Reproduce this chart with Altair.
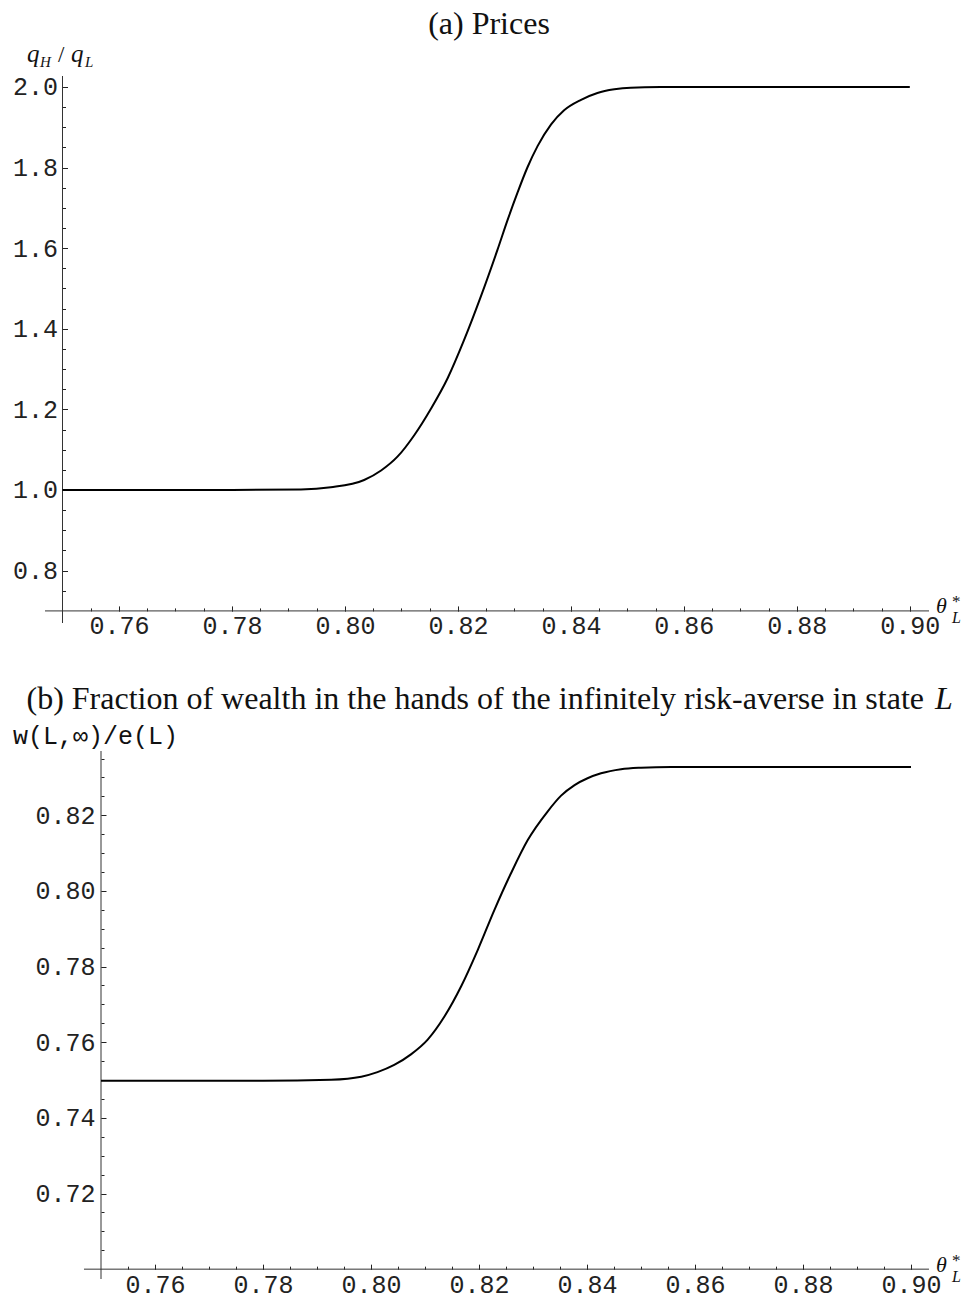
import altair as alt
import pandas as pd

# ---------------- data ----------------
# Panel (a): price ratio q_H / q_L against theta*_L
theta_a = [0.75, 0.77, 0.78, 0.7922, 0.7975, 0.8034, 0.8064, 0.8093, 0.8123,
           0.8152, 0.8182, 0.8211, 0.8241, 0.8270, 0.8288, 0.8306, 0.8323,
           0.8341, 0.8365, 0.8388, 0.8418, 0.8447, 0.8477, 0.8506, 0.8559,
           0.87, 0.88, 0.90]
price_ratio = [1.0, 1.0, 1.0, 1.0012, 1.0067, 1.0248, 1.0484, 1.0826, 1.1365,
               1.2010, 1.2779, 1.3722, 1.4814, 1.5955, 1.6700, 1.7395, 1.8000,
               1.8530, 1.9070, 1.9420, 1.9680, 1.9850, 1.9940, 1.9980, 1.9995,
               2.0, 2.0, 2.0]

# Panel (b): wealth share of the infinitely risk-averse in state L
theta_b = [0.75, 0.77, 0.78, 0.7926, 0.7982, 0.8012, 0.8043, 0.8074, 0.8105,
           0.8136, 0.8167, 0.8198, 0.8228, 0.8259, 0.8290, 0.8327, 0.8352,
           0.8377, 0.8401, 0.8426, 0.8463, 0.85, 0.8556, 0.87, 0.88, 0.90]
wealth_frac = [0.7498, 0.7498, 0.7498, 0.7501, 0.7509, 0.7521, 0.7540, 0.7568,
               0.7607, 0.7668, 0.7748, 0.7845, 0.7948, 0.8046, 0.8134, 0.8210,
               0.8252, 0.8280, 0.8298, 0.8311, 0.8322, 0.8326, 0.8328, 0.8328,
               0.8328, 0.8328]

# tick values
x_major = [0.76, 0.78, 0.80, 0.82, 0.84, 0.86, 0.88, 0.90]
x_minor = [round(0.755 + 0.005 * i, 3) for i in range(30)]
ya_major = [0.8, 1.0, 1.2, 1.4, 1.6, 1.8, 2.0]
ya_minor = [round(0.75 + 0.05 * i, 2) for i in range(26)]
yb_major = [0.72, 0.74, 0.76, 0.78, 0.80, 0.82]
yb_minor = [round(0.705 + 0.005 * i, 3) for i in range(27)]

# axis crossing point and extents
x_cross, y_cross = 0.75, 0.70
a_x_extent = [0.7469, 0.9034]
a_y_extent = [0.670, 2.027]
b_x_extent = [0.74685, 0.90333]
b_y_extent = [0.6974, 0.837]

TICK_FONT = "Liberation Mono"
SERIF = "Liberation Serif"
INK = "#222222"
one = pd.DataFrame({"k": [0]})


def label(text, x, y, size, font=SERIF, style="normal", align="left"):
    return alt.Chart(one).mark_text(
        text=text, font=font, fontSize=size, fontStyle=style, align=align,
        baseline="alphabetic", color="#111111"
    ).encode(x=alt.value(x), y=alt.value(y))


def panel(xs, ys, xdom, ydom, W, H, yfmt, ymaj, ymin, x_ext, y_ext, ylabpad, texts):
    df = pd.DataFrame({"x": xs, "y": ys})
    xs_ = alt.Scale(domain=xdom, nice=False, zero=False)
    ys_ = alt.Scale(domain=ydom, nice=False, zero=False)
    x075 = (x_cross - xdom[0]) / (xdom[1] - xdom[0]) * W
    y07 = (ydom[1] - y_cross) / (ydom[1] - ydom[0]) * H

    line = alt.Chart(df).mark_line(color="black", strokeWidth=2, interpolate="monotone").encode(
        x=alt.X("x:Q", scale=xs_, axis=alt.Axis(
            orient="bottom", offset=-(H - y07), ticks=False, tickSize=0, domain=False,
            grid=False, values=x_major, format=".2f", labelFont=TICK_FONT,
            labelFontSize=25, labelColor=INK, labelPadding=3, title=None,
            labelFlush=False, labelOverlap=False)),
        y=alt.Y("y:Q", scale=ys_, axis=alt.Axis(
            orient="left", offset=-x075, ticks=False, tickSize=0, domain=False,
            grid=False, values=ymaj, format=yfmt, labelFont=TICK_FONT,
            labelFontSize=25, labelColor=INK, labelPadding=ylabpad, title=None,
            labelFlush=False, labelOverlap=False)),
    )

    def tick_layer(xv, yv, size):
        return alt.Chart(df).mark_line(strokeOpacity=0).encode(
            x=alt.X("x:Q", scale=xs_, axis=alt.Axis(
                orient="top", offset=-y07, values=xv, tickSize=size, tickColor=INK,
                tickWidth=1, labels=False, domain=False, grid=False, title=None)),
            y=alt.Y("y:Q", scale=ys_, axis=alt.Axis(
                orient="right", offset=-(W - x075), values=yv, tickSize=size,
                tickColor=INK, tickWidth=1, labels=False, domain=False, grid=False,
                title=None)),
        )

    xr = pd.DataFrame({"x1": [x_ext[0]], "x2": [x_ext[1]], "y": [y_cross]})
    yr = pd.DataFrame({"x": [x_cross], "y1": [y_ext[0]], "y2": [y_ext[1]]})
    xrule = alt.Chart(xr).mark_rule(color="#333333", strokeWidth=1).encode(
        x=alt.X("x1:Q", scale=xs_, axis=None), x2="x2:Q",
        y=alt.Y("y:Q", scale=ys_, axis=None))
    yrule = alt.Chart(yr).mark_rule(color="#333333", strokeWidth=1).encode(
        x=alt.X("x:Q", scale=xs_, axis=None),
        y=alt.Y("y1:Q", scale=ys_, axis=None), y2="y2:Q")

    layers = [tick_layer(x_major, ymaj, 5), tick_layer(x_minor, ymin, 3),
              xrule, yrule, line] + texts
    return alt.layer(*layers).resolve_axis(x="independent", y="independent").properties(
        width=W, height=H)


W = 884
# panel (a): plot origin at page (44, 76)
texts_a = [
    label("(a) Prices", 444, -42, 32, align="center"),
    label("q", -18, -14, 25, style="italic"),
    label("H", -5, -9, 15, style="italic"),
    label("/", 13, -14, 23),
    label("q", 26, -14, 25, style="italic"),
    label("L", 40, -9, 15, style="italic"),
    label("θ", 891, 537, 22, style="italic"),
    label("*", 907, 531, 17),
    label("L", 907, 547, 16, style="italic"),
]
pa = panel(theta_a, price_ratio, a_x_extent, a_y_extent, W, 547, ".1f",
           ya_major, ya_minor, a_x_extent, a_y_extent, 5, texts_a)

# panel (b): plot origin at page (44, 752)
texts_b = [
    label("(b) Fraction of wealth in the hands of the infinitely risk-averse in state",
          879, -42, 32, align="right"),
    label("L", 890, -42, 32, style="italic"),
    label("w(L,∞)/e(L)", -32, -7, 25, font=TICK_FONT),
    label("θ", 891, 521, 22, style="italic"),
    label("*", 907, 515, 17),
    label("L", 907, 531, 16, style="italic"),
]
b_xdom = [0.75 - 56 / 5400, 0.75 - 56 / 5400 + W / 5400]
pb = panel(theta_b, wealth_frac, b_xdom, b_y_extent, W, 528, ".2f",
           yb_major, yb_minor, b_x_extent, b_y_extent, 6, texts_b)

chart = alt.vconcat(pa, pb, spacing=44).properties(
    padding={"left": 4, "top": 0, "right": 0, "bottom": 2}
).configure_view(stroke=None)

chart.save("out.html", embed_options={"renderer": "svg", "actions": False})
